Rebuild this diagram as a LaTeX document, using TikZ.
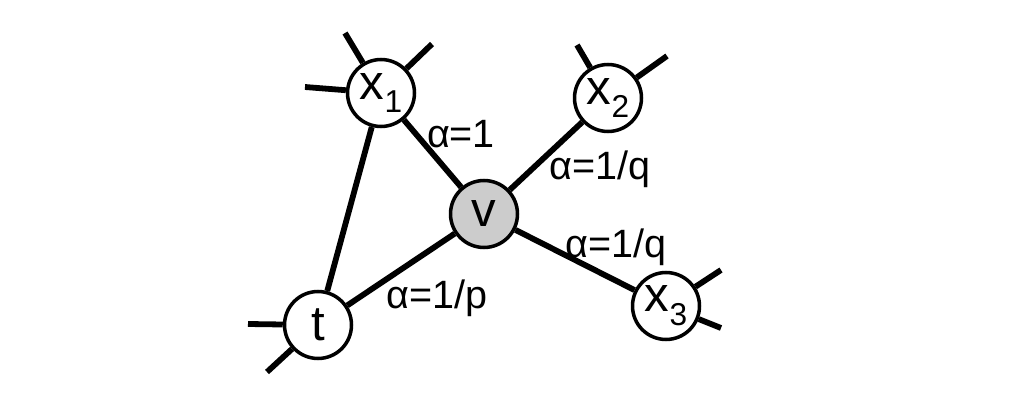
\documentclass[tikz,border=0pt]{standalone}
\usepackage{fontspec}
\setmainfont{Liberation Sans}
\usepackage{tikz}
\usetikzlibrary{positioning}

\newcommand{\sbs}[1]{\raisebox{-0.28em}{\fontsize{18}{20}\selectfont #1}}

\tikzset{
	vtx/.style={circle, draw, line width=2pt, fill=white, minimum size=1.34cm, inner sep=0pt, font=\fontsize{28}{30}\selectfont},
	edge/.style={line width=3.3pt},
	lbl/.style={font=\fontsize{22.5}{25}\selectfont, inner sep=0pt}
}

\begin{document}
\begin{tikzpicture}[x=0.02cm,y=-0.02cm]
		\useasboundingbox (0,0) rectangle (1028,402);
		
		\node[vtx, fill=black!20] (v) at (484,214) {v};
		\node[vtx] (x1) at (381,93) {x\sbs{1}};
		\node[vtx] (x2) at (608,98) {x\sbs{2}};
		\node[vtx] (x3) at (666,306) {x\sbs{3}};
		\node[vtx] (t) at (318,325) {t};
		
		% loose ends
		\coordinate (a1) at (305,87);
		\coordinate (a2) at (345,33);
		\coordinate (a3) at (432,44);
		\coordinate (b1) at (577,45);
		\coordinate (b2) at (667,56);
		\coordinate (c1) at (721,270);
		\coordinate (c2) at (721,328);
		\coordinate (d1) at (248,324);
		\coordinate (d2) at (267,372);
		
		\draw[edge] (x1) -- (v);
		\draw[edge] (x2) -- (v);
		\draw[edge] (x3) -- (v);
		\draw[edge] (t) -- (v);
		\draw[edge] (t) -- (x1);
		
		\draw[edge] (x1) -- (a1);
		\draw[edge] (x1) -- (a2);
		\draw[edge] (x1) -- (a3);
		\draw[edge] (x2) -- (b1);
		\draw[edge] (x2) -- (b2);
		\draw[edge] (x3) -- (c1);
		\draw[edge] (x3) -- (c2);
		\draw[edge] (t) -- (d1);
		\draw[edge] (t) -- (d2);
		
		\node[lbl] (l1) at (461,134) {α=1};
		\node[lbl] (l2) at (600,169) {α=1/q};
		\node[lbl] (l3) at (616,247) {α=1/q};
		\node[lbl] (l4) at (437,298) {α=1/p};
\end{tikzpicture}
\end{document}
